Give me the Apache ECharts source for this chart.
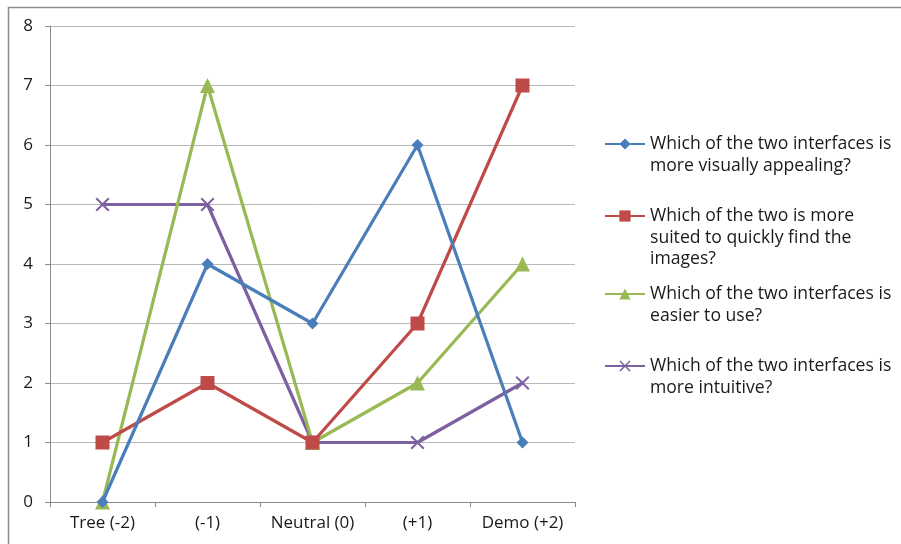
<!DOCTYPE html>
<html>
<head>
<meta charset="utf-8">
<script src="https://cdn.jsdelivr.net/npm/echarts@6/dist/echarts.min.js"></script>
<style>
  html, body { margin: 0; padding: 0; background: #ffffff; }
  #chart { width: 901px; height: 544px; }
</style>
</head>
<body>
<div id="chart"></div>
<script>
// Response categories along the x axis
const categories = ['Tree (-2)', '(-1)', 'Neutral (0)', '(+1)', 'Demo (+2)'];

// Number of responses per question
const visuallyAppealing = [0, 4, 3, 6, 1];
const quicklyFind = [1, 2, 1, 3, 7];
const easierToUse = [0, 7, 1, 2, 4];
const moreIntuitive = [5, 5, 1, 1, 2];

// Question wording, split over lines as in the legend
const questionLines = [
  ['Which of the two interfaces is', 'more visually appealing?'],
  ['Which of the two is more', 'suited to quickly find the', 'images?'],
  ['Which of the two interfaces is', 'easier to use?'],
  ['Which of the two interfaces is', 'more intuitive?']
];

const yTicks = [0, 1, 2, 3, 4, 5, 6, 7, 8];

const colors = ['#4A7EBB', '#BE4B48', '#98B954', '#7D60A0'];
const symbols = [
  'diamond',
  'rect',
  'triangle',
  'path://M0,1L1,0L5,4L9,0L10,1L6,5L10,9L9,10L5,6L1,10L0,9L4,5Z'
];
const symbolSizes = [12, 14, 15, 14];
const seriesData = [visuallyAppealing, quicklyFind, easierToUse, moreIntuitive];
const names = questionLines.map(l => l.join(' '));

const FONT = '"Open Sans", sans-serif';
const LINE_H = 21.5;
// Vertical centre of each legend marker
const legendCentres = [144, 216, 294, 366];

const chart = echarts.init(document.getElementById('chart'), null, { renderer: 'canvas' });

// One legend block per question; padding lines keep the marker on the first text line
const legends = names.map((name, i) => {
  const n = questionLines[i].length;
  const pad = n - 1;
  const totalLines = n + pad;
  return {
    data: [name],
    orient: 'vertical',
    left: 604,
    top: legendCentres[i] - totalLines * LINE_H / 2,
    padding: 0,
    itemWidth: 40,
    itemHeight: 14,
    itemGap: 0,
    selectedMode: false,
    textStyle: {
      fontFamily: FONT,
      fontSize: 17.6,
      color: '#1a1a1a',
      lineHeight: LINE_H
    },
    formatter: () => Array(pad).fill(' ').concat(questionLines[i]).join('\n')
  };
});

const option = {
  backgroundColor: '#ffffff',
  animation: false,
  graphic: [{
    type: 'rect',
    shape: { x: 8.5, y: 7.5, width: 1000, height: 1000 },
    style: { fill: 'none', stroke: '#8c8c8c', lineWidth: 1.5 },
    silent: true,
    z: -10
  }],
  legend: legends,
  grid: { left: 50, top: 26, width: 525, height: 476 },
  xAxis: {
    type: 'category',
    data: categories,
    boundaryGap: true,
    axisLine: { lineStyle: { color: '#8a8a8a', width: 1 } },
    axisTick: { show: true, interval: 0, length: 5, inside: false, lineStyle: { color: '#8a8a8a' } },
    axisLabel: { interval: 0, hideOverlap: false, fontFamily: FONT, fontSize: 17, color: '#1a1a1a', margin: 13 },
    splitLine: { show: false }
  },
  yAxis: {
    type: 'value',
    min: yTicks[0],
    max: yTicks[yTicks.length - 1],
    interval: 1,
    axisLine: { show: true, lineStyle: { color: '#8a8a8a', width: 1 } },
    axisTick: { show: true, length: 5, lineStyle: { color: '#8a8a8a' } },
    axisLabel: { fontFamily: FONT, fontSize: 17, color: '#1a1a1a', margin: 17 },
    splitLine: { show: true, lineStyle: { color: '#b8b8b8', width: 1 } }
  },
  series: seriesData.map((d, i) => ({
    name: names[i],
    type: 'line',
    data: d,
    symbol: symbols[i],
    symbolSize: symbolSizes[i],
    showAllSymbol: true,
    lineStyle: { color: colors[i], width: 3.2 },
    itemStyle: { color: colors[i], borderWidth: 0 },
    z: 2 + (3 - i)
  }))
};

chart.setOption(option);
</script>
</body>
</html>
